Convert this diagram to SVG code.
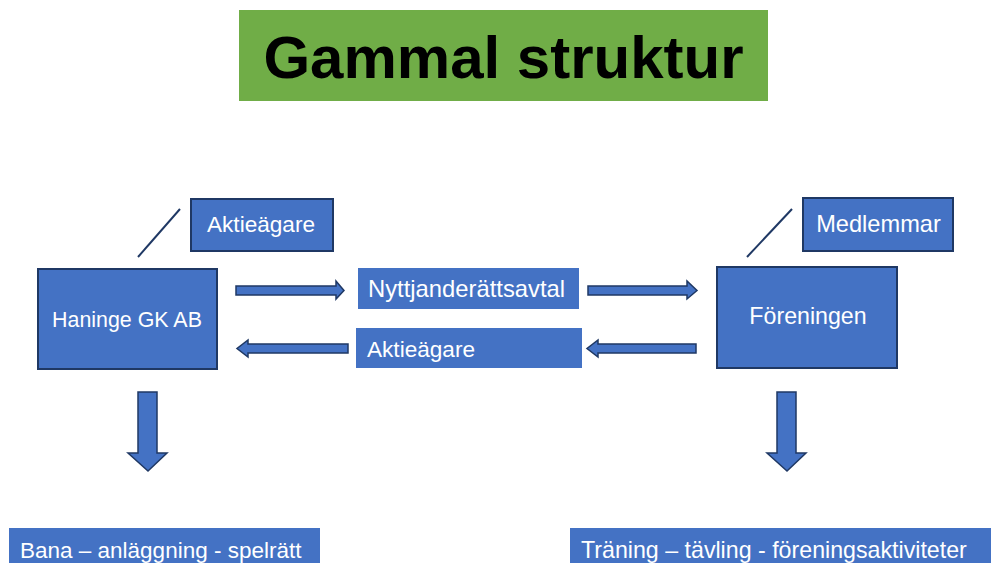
<svg xmlns="http://www.w3.org/2000/svg" width="991" height="563" viewBox="0 0 991 563">
<style>
.box{fill:#4472C4;stroke:#1F3864;stroke-width:2}
.lbl{fill:#4472C4}
.arr{fill:#4472C4;stroke:#1F3864;stroke-width:1.5;stroke-linejoin:miter}
.t{font-family:"Liberation Sans",Arial,sans-serif;font-size:22px;fill:#FFFFFF}
.ln{stroke:#1F3864;stroke-width:2;fill:none}
</style>
<rect width="991" height="563" fill="#FFFFFF"/>
<g id="title">
<rect x="239" y="10" width="529" height="91" fill="#70AD47"/>
<text x="503.5" y="78" text-anchor="middle" font-family="Liberation Sans,Arial,sans-serif" font-weight="bold" font-size="60" fill="#000000">Gammal struktur</text>
</g>
<g id="haninge">
<rect class="box" x="38" y="269" width="179" height="100"/>
<text class="t" x="127" y="327" text-anchor="middle" style="font-size:21.4px">Haninge GK AB</text>
</g>
<g id="aktieagare-top">
<rect class="box" x="191" y="199" width="142" height="52"/>
<text class="t" x="261" y="232" text-anchor="middle" style="font-size:22.6px">Aktieägare</text>
</g>
<g id="foreningen">
<rect class="box" x="717" y="267" width="180" height="101"/>
<text class="t" x="808" y="324" text-anchor="middle" style="font-size:23.2px">Föreningen</text>
</g>
<g id="medlemmar">
<rect class="box" x="803" y="198" width="150" height="53"/>
<text class="t" x="878.5" y="232" text-anchor="middle" style="font-size:23.6px">Medlemmar</text>
</g>
<g id="nyttjande">
<rect class="lbl" x="358" y="268" width="221" height="41"/>
<text class="t" x="368" y="297" style="font-size:23.8px">Nyttjanderättsavtal</text>
</g>
<g id="aktieagare-mid">
<rect class="lbl" x="356" y="328" width="226" height="40"/>
<text class="t" x="367" y="357" style="font-size:22.6px">Aktieägare</text>
</g>
<g id="bana">
<rect class="lbl" x="9" y="528" width="311" height="40"/>
<text class="t" x="20" y="558" style="font-size:22.5px">Bana – anläggning - spelrätt</text>
</g>
<g id="traning">
<rect class="lbl" x="570" y="528" width="421" height="40"/>
<text class="t" x="581" y="558" style="font-size:23.2px">Träning – tävling - föreningsaktiviteter</text>
</g>
<g id="connectors">
<line class="ln" x1="138" y1="257" x2="180" y2="209"/>
<line class="ln" x1="747" y1="257" x2="792" y2="209"/>
<polygon class="arr" points="236,286 336,286 336,281 344,290.5 336,299 336,295 236,295"/>
<polygon class="arr" points="588,286 687,286 687,281 697,290.5 687,299 687,295 588,295"/>
<polygon class="arr" points="348,344 248,344 248,340 237,348.5 248,357 248,353 348,353"/>
<polygon class="arr" points="696,344 598,344 598,340 587,348.5 598,357 598,353 696,353"/>
<polygon class="arr" points="138,392 157,392 157,453 167,453 148,471 128,453 138,453"/>
<polygon class="arr" points="777,392 796,392 796,453 806,453 787,471 767,453 777,453"/>
</g>
</svg>
